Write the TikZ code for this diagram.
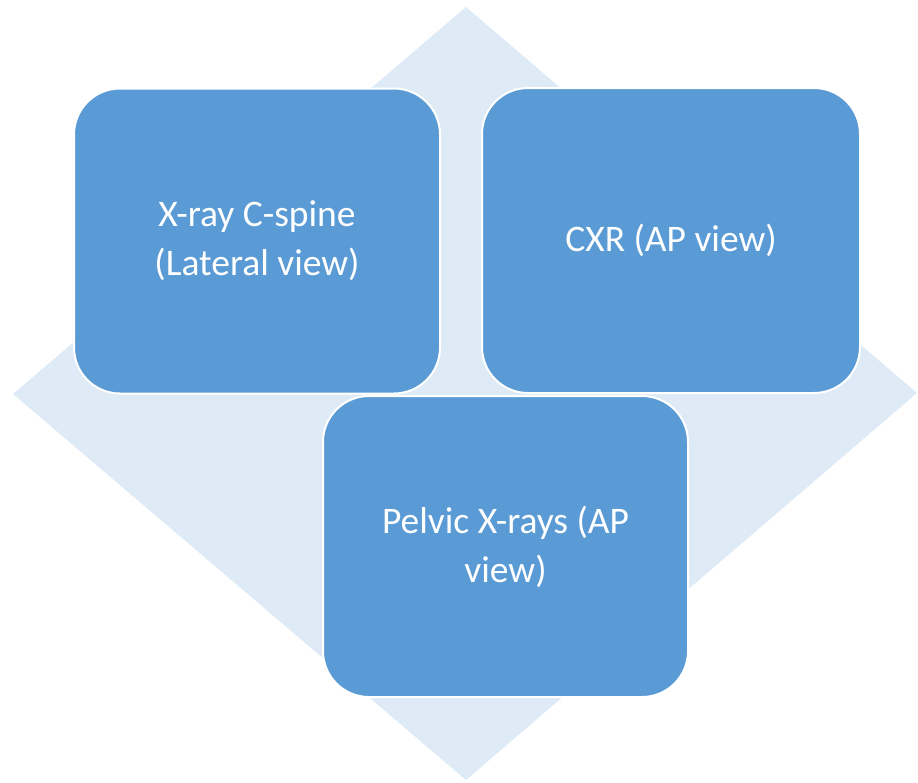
\documentclass[tikz,border=0pt]{standalone}
\usepackage{fontspec}
\setmainfont{Carlito}
\definecolor{boxblue}{HTML}{5B9BD5}
\definecolor{diamondblue}{HTML}{DEEBF7}

\begin{document}
\begin{tikzpicture}[x=1pt,y=-1pt,
	viewbox/.style={rectangle, rounded corners=46pt, fill=boxblue, draw=white,
		line width=2pt, text=white, align=center, font=\fontsize{37.5}{49}\selectfont}]
\useasboundingbox (0,0) rectangle (918,782);
%========================================
% Background diamond
%========================================
\fill[diamondblue] (466,7) -- (917,393) -- (466,780) -- (13,394) -- cycle;
%========================================
% The three views
%========================================
\node[viewbox, minimum width=366pt, minimum height=305pt] (lateral) at (257,241)
	{X-ray C-spine\\(Lateral view)};
\node[viewbox, minimum width=378pt, minimum height=305pt] (cxr) at (671,240.5)
	{CXR (AP view)};
\node[viewbox, minimum width=365pt, minimum height=301pt] (pelvic) at (505.5,546.5)
	{Pelvic X-rays (AP\\view)};
\end{tikzpicture}
\end{document}
